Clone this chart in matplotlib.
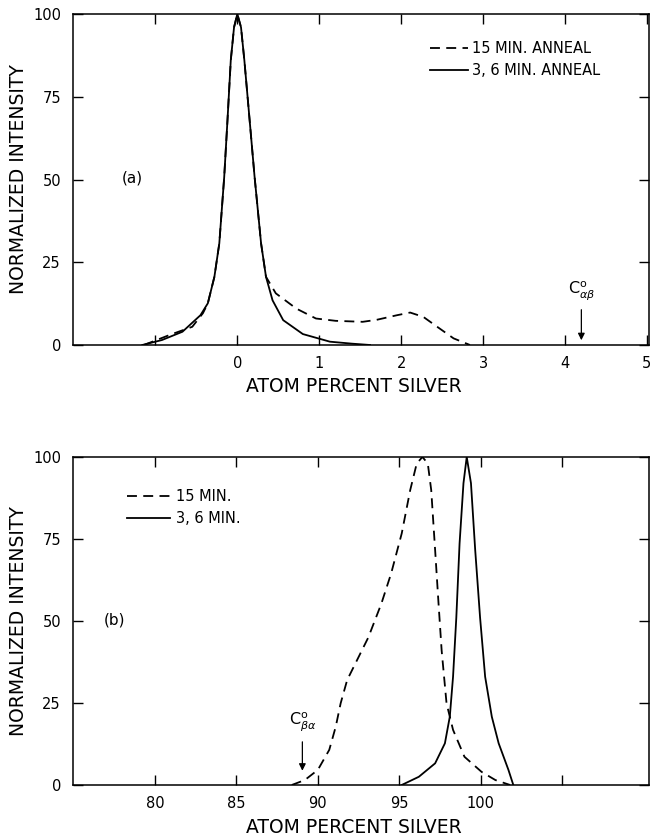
import matplotlib
matplotlib.use("Agg")
import matplotlib.pyplot as plt

# --- donnees ---
# (a) pic a 0 % Ag
a_x_15min = [-1.14, -0.83, -0.55, -0.42, -0.36, -0.28, -0.22, -0.16, -0.12, -0.08, -0.04, 0.0,
             0.045, 0.086, 0.15, 0.21, 0.29, 0.35, 0.47, 0.72, 0.96, 1.2, 1.53, 1.7, 1.95, 2.11,
             2.27, 2.44, 2.64, 2.84]
a_y_15min = [0, 3, 5.5, 9.6, 12.6, 20.6, 30.7, 50.8, 68, 86, 96, 100,
             96, 86, 68, 51, 30.7, 20.6, 15.6, 11, 8, 7.3, 7.0, 7.6, 9.0, 9.8,
             8.5, 5.5, 2.0, 0]
a_x_36min = [-1.16, -0.92, -0.67, -0.45, -0.36, -0.28, -0.22, -0.16, -0.12, -0.08, -0.04, 0.0,
             0.045, 0.086, 0.15, 0.21, 0.29, 0.35, 0.43, 0.56, 0.80, 1.13, 1.40, 1.62]
a_y_36min = [0, 1.5, 4, 9, 12.6, 20.6, 30.7, 50.8, 68, 86, 96, 100,
             96, 86, 68, 51, 30.7, 20.6, 13.5, 7.5, 3.3, 1.0, 0.4, 0]

# (b) pic vers 100 % Ag
b_x_15min = [88.4, 89.2, 90.0, 90.7, 91.1, 91.4, 91.8, 92.3, 93.1, 93.9, 94.5, 95.15, 95.67,
             96.07, 96.42, 96.75, 96.96, 97.2, 97.4, 97.6, 97.9, 98.3, 99.0, 100.05, 100.9, 101.8]
b_y_15min = [0, 1.5, 4.6, 10.7, 17.8, 24.9, 32, 37, 45, 55.3, 64.5, 76.7, 89.9,
             98, 100, 98, 89.9, 71.6, 56, 41, 24.9, 16.8, 8.6, 4, 1.5, 0]
b_x_36min = [95.15, 96.2, 97.2, 97.8, 98.1, 98.3, 98.5, 98.7, 98.94, 99.14, 99.4, 99.66,
             99.96, 100.27, 100.68, 101.1, 101.7, 102.0]
b_y_36min = [0, 2.5, 6.6, 12.7, 20.8, 33, 51, 73.6, 92, 100, 92, 71.6,
             51, 33, 20.8, 12.7, 4.6, 0]

a_ticks = [-1, 0, 1, 2, 3, 4, 5]
a_ticklabels = ["", "0", "1", "2", "3", "4", "5"]
b_ticks = [80, 85, 90, 95, 100, 105]
b_ticklabels = ["80", "85", "90", "95", "100", ""]
y_ticks = [0, 25, 50, 75, 100]

c_ab_x = 4.2
c_ba_x = 89.05

plt.rcParams['font.family'] = ['DejaVu Sans']
dash = (0, (5.5, 3.5))
lw = 1.3

fig = plt.figure(figsize=(6.51, 8.40), dpi=100)
ax1 = fig.add_axes([0.1129, 0.5893, 0.8833, 0.394])
ax2 = fig.add_axes([0.1129, 0.0655, 0.8833, 0.3905])


def style_axes(ax, xticks, xlabels, xlab_y):
    ax.set_xticks(xticks)
    ax.set_xticklabels(xlabels)
    ax.set_yticks(y_ticks)
    ax.set_ylim(0, 100)
    ax.tick_params(direction='in', top=True, right=True, length=7, width=1,
                   labelsize=10.5, pad=9)
    ax.tick_params(axis='x', pad=8)
    for s in ax.spines.values():
        s.set_linewidth(1.1)
    ax.set_xlabel("ATOM PERCENT SILVER", fontsize=13.5, va='center')
    ax.xaxis.set_label_coords(0.488, xlab_y)
    ax.set_ylabel("NORMALIZED INTENSITY", fontsize=13.5, va='center')
    ax.yaxis.set_label_coords(-0.0965, 0.5)


# (a)
ax1.plot(a_x_15min, a_y_15min, color='black', lw=lw, linestyle=dash, label="15 MIN. ANNEAL")
ax1.plot(a_x_36min, a_y_36min, color='black', lw=lw, linestyle='-', label="3, 6 MIN. ANNEAL")
ax1.set_xlim(-2, 5.02)
style_axes(ax1, a_ticks, a_ticklabels, -0.126)
ax1.text(-1.28, 50.4, "(a)", fontsize=11, ha='center', va='center')
ax1.annotate("", xy=(c_ab_x, 0.6), xytext=(c_ab_x, 11.5),
             arrowprops=dict(arrowstyle='-|>', color='black', lw=0.9, mutation_scale=10))
ax1.text(c_ab_x, 16.5, r"$\mathrm{C}^{\mathrm{o}}_{\alpha\beta}$", fontsize=11.5,
         ha='center', va='center')
ax1.legend(loc='upper left', bbox_to_anchor=(0.62, 0.918), frameon=False, fontsize=10.5,
           handlelength=2.6, handletextpad=0.3, labelspacing=0.45, borderpad=0,
           borderaxespad=0)

# (b)
ax2.plot(b_x_15min, b_y_15min, color='black', lw=lw, linestyle=dash, label="15 MIN.")
ax2.plot(b_x_36min, b_y_36min, color='black', lw=lw, linestyle='-', label="3, 6 MIN.")
ax2.set_xlim(75, 110.3)
style_axes(ax2, b_ticks, b_ticklabels, -0.131)
ax2.text(77.5, 50.3, "(b)", fontsize=11, ha='center', va='center')
ax2.annotate("", xy=(c_ba_x, 3.5), xytext=(c_ba_x, 14),
             arrowprops=dict(arrowstyle='-|>', color='black', lw=0.9, mutation_scale=10))
ax2.text(c_ba_x, 19.5, r"$\mathrm{C}^{\mathrm{o}}_{\beta\alpha}$", fontsize=11.5,
         ha='center', va='center')
ax2.legend(loc='upper left', bbox_to_anchor=(0.0925, 0.903), frameon=False, fontsize=10.5,
           handlelength=3.0, handletextpad=0.4, labelspacing=0.5, borderpad=0,
           borderaxespad=0)

fig.savefig("out.png", dpi=100)
